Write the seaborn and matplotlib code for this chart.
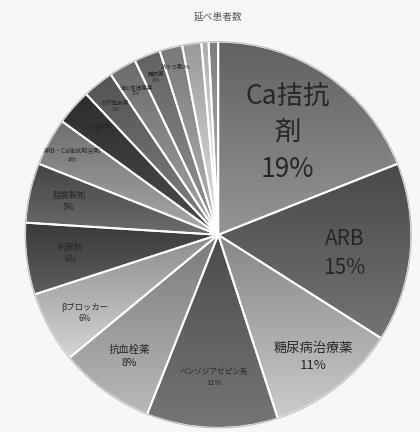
import numpy as np
import matplotlib
matplotlib.use("Agg")
import matplotlib.pyplot as plt
import matplotlib.colors as mcolors
import seaborn as sns

sns.set_theme(style="white")
plt.rcParams['font.family'] = ['Noto Sans CJK JP', 'DejaVu Sans']

title = "延べ患者数"
categories = ["Ca拮抗剤", "ARB", "糖尿病治療薬", "ベンゾジアゼピン系", "抗血栓薬",
              "βブロッカー", "利尿剤", "脂質製剤", "ARB・Ca拮抗剤合剤",
              "ACE阻害薬", "抗不整脈薬", "消化性潰瘍薬", "睡眠薬", "抗うつ薬",
              "その他1", "その他2", "その他3"]
values = [19, 15, 11, 11, 8, 6, 6, 5, 4, 3, 2.6, 2.3, 2.2, 1.9, 1.6, 0.6, 0.8]
colors = ["#7c7c7c", "#5e5e5e", "#acacac", "#606060", "#9c9c9c",
          "#b4b4b4", "#4a4a4a", "#585858", "#8e8e8e",
          "#3a3a3a", "#6a6a6a", "#8a8a8a", "#7c7c7c", "#9a9a9a",
          "#c4c4c4", "#dcdcdc", "#a0a0a0"]

label_text = ["Ca拮抗\n剤\n{p}", "ARB\n{p}", "糖尿病治療薬\n{p}", "ベンゾジアゼピン系\n{p}",
              "抗血栓薬\n{p}", "βブロッカー\n{p}", "利尿剤\n{p}", "脂質製剤\n{p}",
              "ARB・Ca拮抗剤合剤\n{p}", "ACE阻害薬\n{p}", "抗不整脈薬\n{p}", "消化性潰瘍薬\n{p}",
              "睡眠薬\n{p}", "抗うつ薬{p}", "", "", ""]
label_r = [0.64, 0.66, 0.80, 0.74, 0.78, 0.80, 0.77, 0.79, 0.86, 0.83, 0.85, 0.86,
           0.88, 0.9, 0.9, 0.9, 0.9]
label_da = [0, -3, 0, 0, 0, 1.5, 0, 0, 0, 0, 0, 0, 0, 0, 0, 0, 0]
label_fs = [19, 15, 9.5, 5.5, 7.5, 6, 6, 6, 4.5, 4, 4, 4, 4, 4, 4, 4, 4]
label_ls = [1.45, 1.45, 1.4, 1.4, 1.3, 1.3, 1.5, 1.5, 1.3, 1.2, 1.2, 1.2, 1.2, 1.2, 1.2, 1.2, 1.2]

fig = plt.figure(figsize=(4.2, 4.32), dpi=100)
fig.patch.set_facecolor("#f7f7f7")
ax = fig.add_axes([0.055, 0.005, 0.929, 0.903])
wedges, _ = ax.pie(values, colors=colors, startangle=90, counterclock=False,
                   radius=1.0,
                   wedgeprops=dict(edgecolor="white", linewidth=1.4))

# vertical gradient shading inside each wedge (darker top, lighter bottom)
for w, c in zip(wedges, colors):
    verts = w.get_path().vertices
    x0, x1 = verts[:, 0].min(), verts[:, 0].max()
    y0, y1 = verts[:, 1].min(), verts[:, 1].max()
    base = np.array(mcolors.to_rgb(c))
    t = np.linspace(0, 1, 64)[:, None]
    top = base * 0.78
    bot = np.clip(base * 1.12 + 0.04, 0, 1)
    grad = top[None, :] * (1 - t) + bot[None, :] * t
    img = np.repeat(grad[:, None, :], 2, axis=1)
    im = ax.imshow(img, extent=(x0, x1, y0, y1), origin="upper",
                   aspect="auto", zorder=w.get_zorder() + 0.1, interpolation="bilinear")
    im.set_clip_path(w)
    ax.add_patch(matplotlib.patches.Wedge(w.center, w.r, w.theta1, w.theta2,
                                          facecolor="none", edgecolor="white",
                                          linewidth=1.4, zorder=w.get_zorder() + 0.2))
ax.add_patch(matplotlib.patches.Circle((0, 0), 1.0, facecolor="none",
                                       edgecolor="#bdbdbd", linewidth=0.8, zorder=5))
ax.set_xlim(-1.01, 1.01)
ax.set_ylim(-1.01, 1.01)
ax.set_aspect("equal")

total = sum(values)
for w, v, t, r, da, fs, ls in zip(wedges, values, label_text, label_r, label_da,
                                  label_fs, label_ls):
    if not t:
        continue
    ang = np.deg2rad((w.theta1 + w.theta2) / 2 + da)
    x, y = r * np.cos(ang), r * np.sin(ang)
    pct = f"{round(v / total * 100):.0f}%"
    ax.text(x, y, t.format(p=pct), ha="center", va="center", fontsize=fs,
            color="#262626", linespacing=ls, zorder=10)

fig.text(0.519, 0.962, title, ha="center", va="center", fontsize=7, color="#555555")
fig.savefig("out.png", dpi=100, facecolor=fig.get_facecolor())
